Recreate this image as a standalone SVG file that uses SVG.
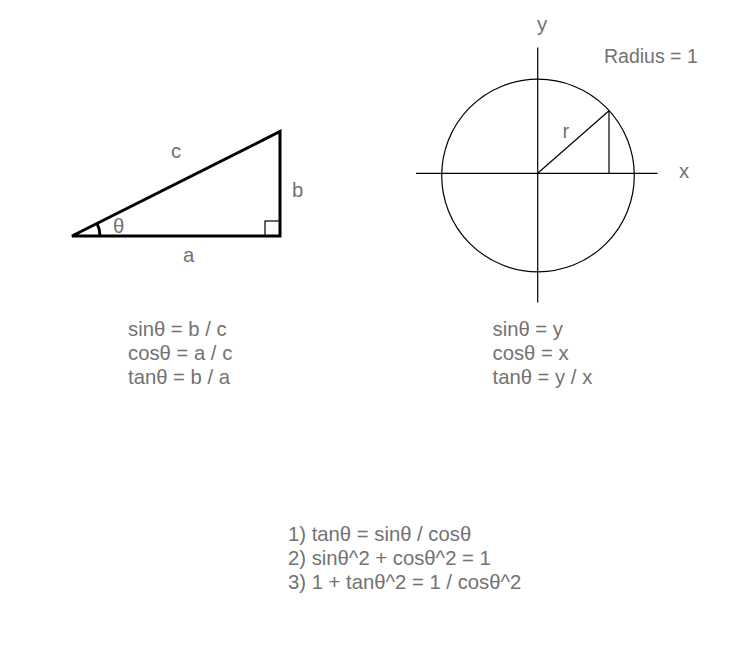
<svg xmlns="http://www.w3.org/2000/svg" width="744" height="658" viewBox="0 0 744 658">
  <style>
    .t { font-family: "Liberation Sans", Arial, Helvetica, sans-serif; font-size: 20.3px; fill: #727272; }
    .thick { fill: none; stroke: #000; stroke-width: 3; }
    .thin { fill: none; stroke: #000; stroke-width: 1.2; }
  </style>
  <rect width="744" height="658" fill="#fff"/>

  <g id="triangle">
    <polygon class="thick" points="72,236 280,236 280,131.5" stroke-linejoin="miter"/>
    <rect class="thin" x="265" y="221" width="15" height="15"/>
    <path class="thick" d="M97,223.4 A28,28 0 0 1 100,236" stroke-width="2.5"/>
    <text class="t" x="171" y="158">c</text>
    <text class="t" x="292" y="196.5">b</text>
    <text class="t" x="113" y="233">θ</text>
    <text class="t" x="183" y="261.5">a</text>
  </g>

  <g id="unit-circle">
    <circle class="thin" cx="538" cy="175.5" r="96.3" stroke="#222" stroke-width="1"/>
    <line class="thin" x1="416" y1="173.3" x2="657.5" y2="173.3"/>
    <line class="thin" x1="537.7" y1="47.5" x2="537.7" y2="302.5"/>
    <line class="thin" x1="537.7" y1="173.3" x2="609" y2="110.7" stroke-width="1"/>
    <line class="thin" x1="609" y1="110.7" x2="609" y2="173.3"/>
    <text class="t" x="537" y="30.5">y</text>
    <text class="t" x="679" y="178.3">x</text>
    <text class="t" x="562.5" y="137.7">r</text>
    <text class="t" x="604" y="62.7" style="font-size:19.5px">Radius = 1</text>
  </g>

  <g id="triangle-formulas">
    <text class="t" x="128" y="336">sinθ = b / c</text>
    <text class="t" x="128" y="360">cosθ = a / c</text>
    <text class="t" x="128" y="384">tanθ = b / a</text>
  </g>

  <g id="circle-formulas">
    <text class="t" x="492.5" y="336">sinθ = y</text>
    <text class="t" x="492.5" y="360">cosθ = x</text>
    <text class="t" x="492.5" y="384">tanθ = y / x</text>
  </g>

  <g id="identities">
    <text class="t" x="288" y="540.5">1) tanθ = sinθ / cosθ</text>
    <text class="t" x="288" y="564.5">2) sinθ^2 + cosθ^2 = 1</text>
    <text class="t" x="288" y="588.5">3) 1 + tanθ^2 = 1 / cosθ^2</text>
  </g>

  <g id="connectors"></g>
</svg>
